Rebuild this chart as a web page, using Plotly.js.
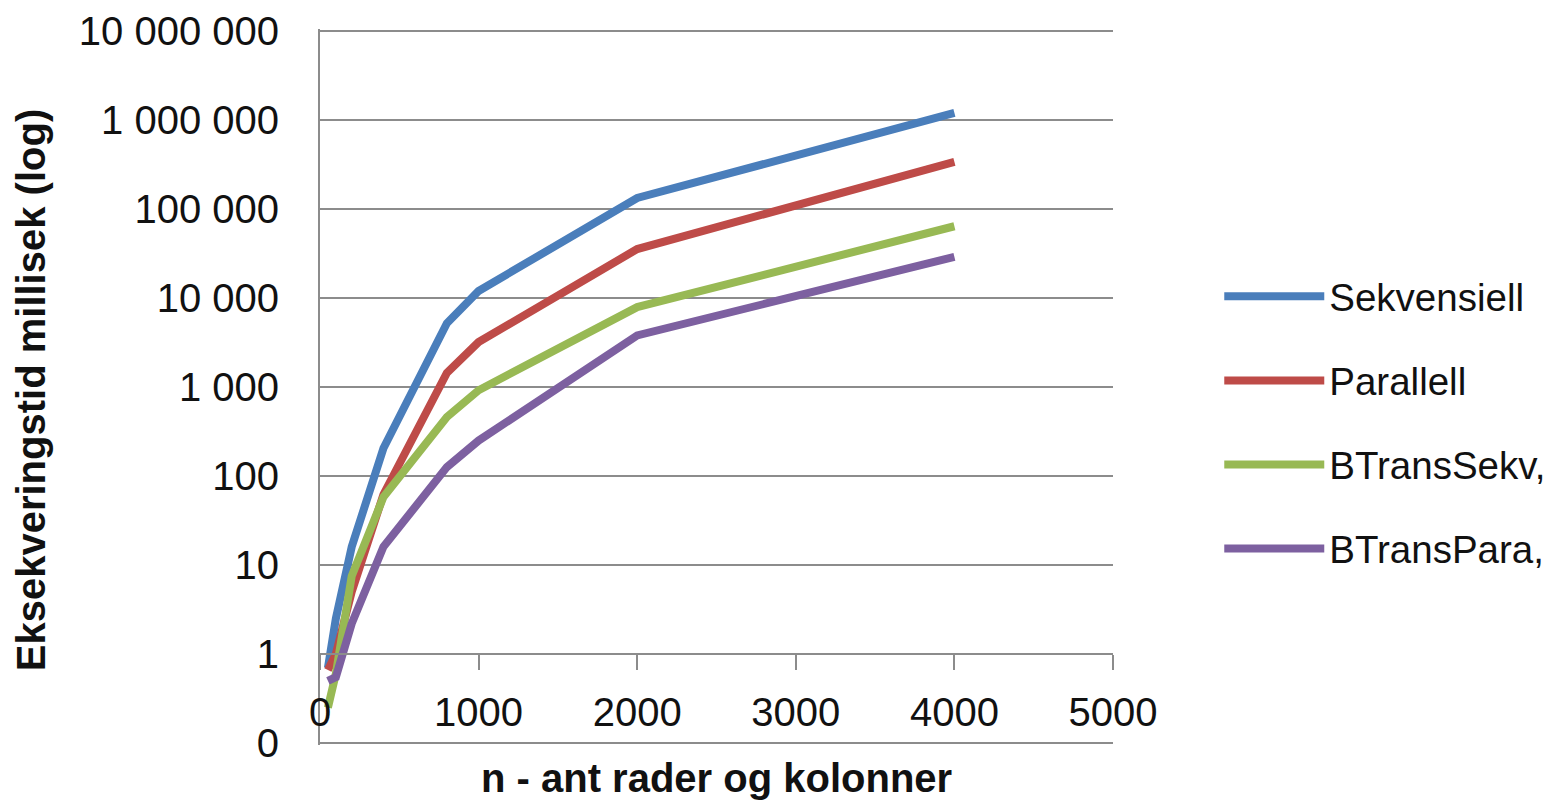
<!DOCTYPE html>
<html>
<head>
<meta charset="utf-8">
<script src="https://cdn.plot.ly/plotly-3.0.1.min.js"></script>
<style>html,body{margin:0;padding:0;background:#fff;}#chart{width:1558px;height:802px;}</style>
</head>
<body>
<div id="chart"></div>
<script>
// n values (rows and columns)
var nValues = [50, 100, 200, 400, 800, 1000, 2000, 4000];
// execution time in milliseconds
var sekvensiell = [0.7, 2.5, 16, 205, 5200, 12000, 133000, 1200000];
var parallell   = [0.66, 1.0, 5, 62, 1440, 3200, 35500, 338000];
var bTransSekv  = [0.25, 0.6, 7.5, 58, 460, 920, 7900, 64000];
var bTransPara  = [0.5, 0.55, 2.2, 16, 126, 250, 3800, 29000];

var seriesNames = ['Sekvensiell', 'Parallell', 'BTransSekv,', 'BTransPara,'];
var seriesColors = ['#4A7EBB', '#BE4B48', '#98B954', '#7D60A0'];
var seriesData = [sekvensiell, parallell, bTransSekv, bTransPara];

var yTickVals = [0.1, 1, 10, 100, 1000, 10000, 100000, 1000000, 10000000];
var yTickText = ['0', '1', '10', '100', '1 000', '10 000', '100 000', '1 000 000', '10 000 000'];
var xTickVals = [0, 1000, 2000, 3000, 4000, 5000];
var xTickText = ['0', '1000', '2000', '3000', '4000', '5000'];

var FONT = 'Liberation Sans, Arial, sans-serif';

var traces = seriesData.map(function (vals, i) {
  return {
    x: nValues,
    y: vals,
    type: 'scatter',
    mode: 'lines',
    name: seriesNames[i],
    legendgroup: 'g' + i,
    line: {color: seriesColors[i], width: 8},
    hoverinfo: 'x+y+name'
  };
});

var layout = {
  width: 1558,
  height: 802,
  paper_bgcolor: '#ffffff',
  plot_bgcolor: '#ffffff',
  margin: {l: 320, r: 445, t: 29, b: 57, pad: 0, autoexpand: false},
  font: {family: FONT, size: 40, color: '#111'},
  showlegend: true,
  legend: {
    x: 1.134, y: 0.45, xanchor: 'left', yanchor: 'middle',
    font: {family: FONT, size: 38.5, color: '#111'},
    traceorder: 'grouped',
    tracegroupgap: 31,
    itemwidth: 100,
    bgcolor: 'rgba(0,0,0,0)'
  },
  xaxis: {
    range: [0, 5000],
    tickvals: xTickVals,
    ticktext: xTickText,
    anchor: 'free',
    position: 0.1271,
    showline: true,
    linecolor: '#8c8c8c',
    linewidth: 2,
    ticks: 'outside',
    ticklen: 15,
    tickwidth: 2,
    tickcolor: '#8c8c8c',
    showgrid: false,
    zeroline: false,
    ticklabelstandoff: 8,
    tickfont: {family: FONT, size: 40, color: '#111'},
    automargin: false
  },
  yaxis: {
    type: 'log',
    range: [-1.0225, 7.0225],
    tickvals: yTickVals,
    ticktext: yTickText,
    showline: true,
    linecolor: '#8c8c8c',
    linewidth: 2,
    ticks: '',
    showgrid: true,
    gridcolor: '#8c8c8c',
    gridwidth: 2,
    zeroline: false,
    ticklabelstandoff: 31,
    tickfont: {family: FONT, size: 40, color: '#111'},
    automargin: false
  },
  annotations: [
    {
      text: '<b>n - ant rader og kolonner</b>',
      xref: 'paper', yref: 'paper',
      x: 0.5, y: -0.046, xanchor: 'center', yanchor: 'middle',
      showarrow: false,
      font: {family: FONT, size: 40, color: '#111'}
    },
    {
      text: '<b>Eksekveringstid millisek (log)</b>',
      xref: 'paper', yref: 'paper',
      x: -0.364, y: 0.496, xanchor: 'center', yanchor: 'middle',
      textangle: -90,
      showarrow: false,
      font: {family: FONT, size: 40, color: '#111'}
    }
  ]
};

Plotly.newPlot('chart', traces, layout, {displayModeBar: false, staticPlot: true});
</script>
</body>
</html>
